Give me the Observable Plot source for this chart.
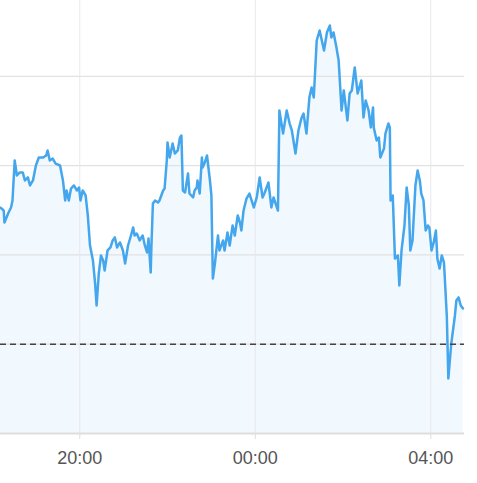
<!DOCTYPE html>
<html>
<head>
<meta charset="utf-8">
<script src="https://cdn.jsdelivr.net/npm/d3@7"></script>
<script src="https://cdn.jsdelivr.net/npm/@observablehq/plot@0.6"></script>
<style>
  html, body { margin: 0; padding: 0; background: #fff; }
  #chart svg { display: block; }
</style>
</head>
<body>
<div id="chart"></div>
<script>
// Time of each sample (evening of day 1 through early morning of day 2)
const times = [
  "18:11","18:13","18:16","18:17","18:22","18:26","18:28","18:31","18:34","18:38",
  "18:42","18:45","18:49","18:52","18:56","19:00","19:04","19:10","19:14","19:16",
  "19:19","19:23","19:27","19:33","19:37","19:40","19:42","19:45","19:48","19:52",
  "19:56","19:59","20:01","20:04","20:08","20:11","20:14","20:18","20:21","20:23",
  "20:26","20:29","20:32","20:34","20:38","20:42","20:45","20:48","20:51","20:55",
  "20:59","21:02","21:06","21:10","21:13","21:15","21:18","21:22","21:26","21:29",
  "21:32","21:34","21:37","21:38","21:40","21:43","21:47","21:49","21:54","21:56",
  "21:59","22:00","22:03","22:07","22:10","22:14","22:17","22:19","22:21","22:24",
  "22:28","22:30","22:35","22:37","22:40","22:41","22:44","22:47","22:48","22:51",
  "22:54","22:58","23:00","23:02","23:05","23:09","23:11","23:16","23:18","23:22",
  "23:25","23:29","23:32","23:36","23:39","23:41","23:44","23:48","23:52","23:58",
  "00:02","00:06","00:10","00:13","00:18","00:22","00:25","00:31","00:33","00:38",
  "00:43","00:47","00:50","00:55","00:59","01:03","01:06","01:10","01:14","01:17",
  "01:20","01:24","01:28","01:34","01:38","01:42","01:44","01:47","01:51","01:54",
  "01:58","02:01","02:06","02:09","02:12","02:16","02:20","02:25","02:28","02:31",
  "02:35","02:38","02:41","02:42","02:46","02:49","02:51","02:56","02:58","03:02",
  "03:04","03:05","03:08","03:11","03:15","03:17","03:20","03:24","03:27","03:30",
  "03:32","03:35","03:39","03:42","03:45","03:47","03:50","03:53","03:56","03:58",
  "04:01","04:04","04:07","04:09","04:12","04:15","04:18","04:19","04:22","04:24",
  "04:28","04:33","04:35","04:38","04:41","04:44"
];
// Price at each sample
const values = [
  25.266,25.260,25.249,25.182,25.232,25.266,25.305,25.529,25.445,25.462,
  25.462,25.417,25.434,25.389,25.417,25.501,25.546,25.546,25.557,25.585,
  25.529,25.540,25.512,25.501,25.417,25.305,25.361,25.305,25.372,25.389,
  25.361,25.378,25.305,25.361,25.333,25.221,25.053,24.969,24.840,24.717,
  24.896,24.997,24.969,24.913,25.025,25.042,25.081,25.098,25.042,25.070,
  25.025,24.952,25.053,25.109,25.154,25.109,25.120,25.081,25.109,25.053,
  25.014,25.092,24.902,25.053,25.288,25.305,25.294,25.305,25.361,25.372,
  25.529,25.630,25.546,25.624,25.568,25.585,25.658,25.669,25.361,25.350,
  25.456,25.344,25.322,25.361,25.378,25.417,25.344,25.546,25.490,25.518,
  25.557,25.417,25.333,24.868,24.958,25.109,25.025,25.081,25.025,25.126,
  25.053,25.165,25.109,25.221,25.182,25.137,25.249,25.316,25.344,25.266,
  25.322,25.434,25.322,25.350,25.406,25.266,25.322,25.249,25.809,25.680,
  25.809,25.736,25.697,25.568,25.697,25.764,25.792,25.680,25.882,25.938,
  25.882,26.201,26.257,26.145,26.246,26.285,26.218,26.246,26.162,26.089,
  25.809,25.921,25.753,25.904,25.921,26.050,25.904,25.977,25.770,25.865,
  25.809,25.714,25.826,25.714,25.641,25.658,25.546,25.596,25.680,25.736,
  25.714,25.305,25.333,24.980,24.997,24.829,25.025,25.165,25.378,25.277,
  25.025,25.081,25.389,25.473,25.417,25.344,25.305,25.137,25.165,25.154,
  25.025,25.070,25.137,24.980,24.924,24.997,24.958,24.885,24.650,24.308,
  24.504,24.661,24.745,24.762,24.717,24.700
];
const tickLabels = ["20:00", "00:00", "04:00"];
const gridValues = [24.5, 25, 25.5, 26];
const baseValue = 24;
const prevClose = 24.5;

function toDate(t) {
  const [h, m] = t.split(":").map(Number);
  return new Date(Date.UTC(2024, 0, h >= 12 ? 1 : 2, h, m));
}
const data = times.map((t, i) => ({date: toDate(t), value: values[i]}));
const tickDates = tickLabels.map(toDate);

const chart = Plot.plot({
  width: 477,
  height: 483,
  marginLeft: 0,
  marginRight: 13,
  marginTop: 0,
  marginBottom: 50,
  style: {background: "#fff", fontFamily: "'Liberation Sans', Arial, sans-serif"},
  x: {type: "utc", domain: [new Date(Date.UTC(2024,0,1,18,11,36)), new Date(Date.UTC(2024,0,2,4,46,6))]},
  y: {domain: [24, 26.425], axis: null},
  marks: [
    Plot.areaY(data, {x: "date", y1: baseValue, y2: "value", fill: "#42a5f5", fillOpacity: 0.075}),
    Plot.ruleY(gridValues, {stroke: "#e2e2e2", strokeWidth: 1.2}),
    Plot.ruleX(tickDates, {stroke: "#e8e8ec", strokeWidth: 1}),
    Plot.ruleY([baseValue], {stroke: "#dedede", strokeWidth: 2}),
    Plot.lineY(data, {x: "date", y: "value", stroke: "#44a6ec", strokeWidth: 2.5, strokeLinejoin: "round"}),
    Plot.ruleY([prevClose], {stroke: "#444", strokeWidth: 1.5, strokeDasharray: "6,4"}),
    Plot.axisX({
      ticks: tickDates,
      tickFormat: d3.utcFormat("%H:%M"),
      tickSize: 6,
      tickPadding: 12,
      stroke: "#dedede",
      fill: "#555",
      fontSize: 18,
      label: null
    })
  ]
});
document.getElementById("chart").appendChild(chart);
</script>
</body>
</html>
